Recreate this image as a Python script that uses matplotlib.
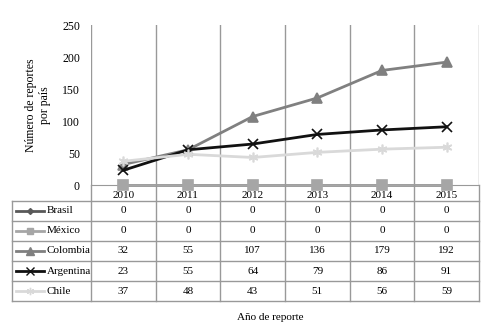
import matplotlib.pyplot as plt
import numpy as np

plt.rcParams['font.family'] = ['Liberation Serif', 'DejaVu Serif']

years = ['2010', '2011', '2012', '2013', '2014', '2015']
countries = ['Brasil', 'México', 'Colombia', 'Argentina', 'Chile']
brasil = [0, 0, 0, 0, 0, 0]
mexico = [0, 0, 0, 0, 0, 0]
colombia = [32, 55, 107, 136, 179, 192]
argentina = [23, 55, 64, 79, 86, 91]
chile = [37, 48, 43, 51, 56, 59]
series = [brasil, mexico, colombia, argentina, chile]

colors = ['#595959', '#a6a6a6', '#808080', '#111111', '#d9d9d9']
markers = ['D', 's', '^', 'x', (6, 2, 0)]
msizes = [4, 6.5, 7, 7, 7]
grid_c = '#999999'

W, H = 489, 335
fig = plt.figure(figsize=(W / 100, H / 100), dpi=100)

def px_axes(x0, y0, x1, y1):
    return fig.add_axes([x0 / W, 1 - y1 / H, (x1 - x0) / W, (y1 - y0) / H])

# chart area
ax = px_axes(91, 25, 479, 185)
n = len(years)
xs = np.arange(n)
draw_order = [0, 2, 3, 4, 1]
for i in draw_order:
    ax.plot(xs, series[i], color=colors[i], lw=2, marker=markers[i],
            ms=msizes[i], mew=1.2, clip_on=False, zorder=3 + (i == 1))
ax.set_xlim(-0.5, n - 0.5)
ax.set_ylim(0, 250)
ax.set_yticks([0, 50, 100, 150, 200, 250])
ax.set_xticks([])
ax.tick_params(axis='y', length=0, labelsize=8.5, pad=8)
for b in np.arange(n + 1) - 0.5:
    ax.axvline(b, color=grid_c, lw=1, zorder=1)
for s in ['top', 'right', 'left']:
    ax.spines[s].set_visible(False)
ax.spines['bottom'].set_color(grid_c)
ax.set_ylabel('Número de reportes\npor país', fontsize=8.5, labelpad=8)

# data table
tb = px_axes(12, 185, 479, 301)
tb.set_xlim(0, 467)
tb.set_ylim(116, 0)
tb.axis('off')
col_x = [79 + k * (388 / n) for k in range(n + 1)]
row_y = [16 + k * 20 for k in range(len(countries) + 1)]
for cx in col_x:
    tb.plot([cx, cx], [0, 116], color=grid_c, lw=1, clip_on=False)
tb.plot([0, 0], [16, 116], color=grid_c, lw=1, clip_on=False)
for ry in row_y:
    tb.plot([0, 467], [ry, ry], color=grid_c, lw=1, clip_on=False)
for k, yr in enumerate(years):
    tb.text((col_x[k] + col_x[k + 1]) / 2, 10.5, yr, ha='center', va='center', fontsize=8)
for r, name in enumerate(countries):
    yc = (row_y[r] + row_y[r + 1]) / 2
    tb.plot([4, 18, 32], [yc, yc, yc], color=colors[r], lw=2, marker=markers[r],
            markevery=[1], ms=msizes[r] * 0.75, clip_on=False)
    tb.text(35, yc, name, ha='left', va='center', fontsize=8)
    for k in range(n):
        tb.text((col_x[k] + col_x[k + 1]) / 2, yc, str(series[r][k]),
                ha='center', va='center', fontsize=8)

fig.text(270 / W, 1 - 317 / H, 'Año de reporte', ha='center', va='center', fontsize=8)

fig.savefig('out.png', dpi=100)
